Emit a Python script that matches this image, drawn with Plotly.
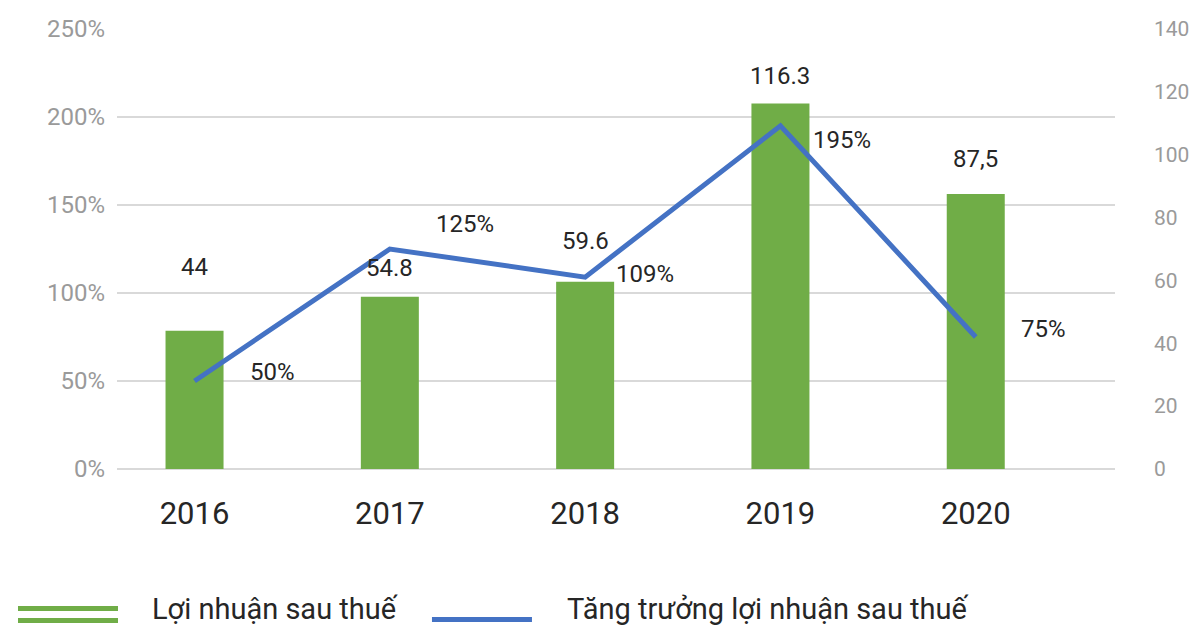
import plotly.graph_objects as go

# ---- data ----
years = ["2016", "2017", "2018", "2019", "2020"]
profit = [44, 54.8, 59.6, 116.3, 87.5]                 # Lợi nhuận sau thuế
profit_labels = ["44", "54.8", "59.6", "116.3", "87,5"]
growth = [50, 125, 109, 195, 75]                       # Tăng trưởng (%)
growth_labels = ["50%", "125%", "109%", "195%", "75%"]

name_bar = "Lợi nhuận sau thuế"
name_line = "Tăng trưởng lợi nhuận sau thuế"

# ---- style ----
GREEN = "#70AD47"
BLUE = "#4472C4"
GRID = "#D9D9D9"
TICK_GRAY = "#9A9A9A"
DARK = "#262626"
FONT = "Roboto"

# label nudges (pixels)
bar_label_dy = [64, 29, 41, 27, 35]
pct_label_dx = [78, 75, 60, 62, 68]
pct_label_dy = [9, 25, 3, -14, 8]

fig = go.Figure()

fig.add_trace(go.Bar(
    x=years, y=profit, name=name_bar, yaxis="y",
    marker=dict(color=GREEN, line=dict(width=0)),
    width=0.297, showlegend=False,
))
fig.add_trace(go.Scatter(
    x=years, y=growth, name=name_line, yaxis="y2", mode="lines",
    line=dict(color=BLUE, width=5), showlegend=False,
))

annotations = []
for i, (v, t) in enumerate(zip(profit, profit_labels)):
    annotations.append(dict(
        x=i, y=v, xref="x", yref="y", text=t, showarrow=False,
        xanchor="center", yanchor="middle", yshift=bar_label_dy[i],
        font=dict(family=FONT, size=24, color=DARK),
    ))
for i, (v, t) in enumerate(zip(growth, growth_labels)):
    annotations.append(dict(
        x=i, y=v, xref="x", yref="y2", text=t, showarrow=False,
        xanchor="center", yanchor="middle",
        xshift=pct_label_dx[i], yshift=pct_label_dy[i],
        font=dict(family=FONT, size=24, color=DARK),
    ))

# custom legend (paper coordinates)
annotations.append(dict(
    x=0.033, y=-0.318, xref="paper", yref="paper", text=name_bar,
    showarrow=False, xanchor="left", yanchor="middle",
    font=dict(family=FONT, size=29, color=DARK),
))
annotations.append(dict(
    x=0.449, y=-0.318, xref="paper", yref="paper", text=name_line,
    showarrow=False, xanchor="left", yanchor="middle",
    font=dict(family=FONT, size=29, color=DARK),
))

shapes = [
    dict(type="line", xref="paper", yref="paper", x0=-0.0992, x1=0.001,
         y0=-0.317, y1=-0.317, line=dict(color=GREEN, width=5)),
    dict(type="line", xref="paper", yref="paper", x0=-0.0992, x1=0.001,
         y0=-0.3443, y1=-0.3443, line=dict(color=GREEN, width=5)),
    dict(type="line", xref="paper", yref="paper", x0=0.3156, x1=0.4158,
         y0=-0.342, y1=-0.342, line=dict(color=BLUE, width=5)),
]

fig.update_layout(
    width=1194, height=626, autosize=False,
    margin=dict(l=117, r=79, t=29, b=157, pad=0, autoexpand=False),
    paper_bgcolor="white", plot_bgcolor="white",
    font=dict(family=FONT, color=DARK),
    showlegend=False,
    xaxis=dict(
        type="category", categoryorder="array", categoryarray=years,
        range=[-0.397, 4.713], showgrid=False, zeroline=False, showline=False,
        ticks="", tickfont=dict(family=FONT, size=31, color=DARK),
        ticklabelstandoff=23, automargin=False,
    ),
    yaxis=dict(
        side="right", range=[0, 140], tickmode="linear", tick0=0, dtick=20,
        showgrid=False, zeroline=False, showline=False, ticks="",
        tickfont=dict(family=FONT, size=21, color=TICK_GRAY),
        ticklabelstandoff=38, automargin=False,
    ),
    yaxis2=dict(
        side="left", overlaying="y", range=[0, 250],
        tickmode="linear", tick0=0, dtick=50, ticksuffix="%",
        showgrid=True, gridcolor=GRID, gridwidth=2,
        zeroline=True, zerolinecolor=GRID, zerolinewidth=2,
        showline=False, ticks="",
        tickfont=dict(family=FONT, size=24, color=TICK_GRAY),
        ticklabelstandoff=11, automargin=False,
    ),
    annotations=annotations,
    shapes=shapes,
)

fig.write_html(
    "out.html",
    config={"responsive": False, "displayModeBar": False},
    post_script="document.body.style.margin='0';document.body.style.overflow='hidden';",
)
